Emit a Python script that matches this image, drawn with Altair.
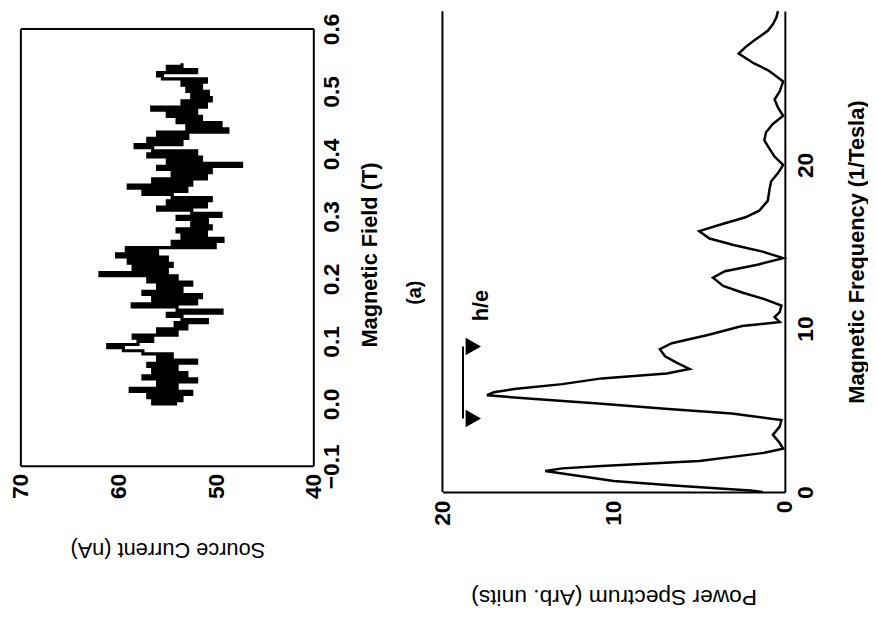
import altair as alt
import pandas as pd

# ---- panel 1: source current vs magnetic field (figure is rotated 90 deg) ----
field_T = [0.000, 0.005, 0.010, 0.015, 0.020, 0.025, 0.030, 0.035, 0.040, 0.045,
           0.050, 0.055, 0.060, 0.065, 0.070, 0.075, 0.080, 0.085, 0.090, 0.095,
           0.100, 0.105, 0.110, 0.115, 0.120, 0.125, 0.130, 0.135, 0.140, 0.145,
           0.150, 0.155, 0.160, 0.165, 0.170, 0.175, 0.180, 0.185, 0.190, 0.195,
           0.200, 0.205, 0.210, 0.215, 0.220, 0.225, 0.230, 0.235, 0.240, 0.245,
           0.250, 0.255, 0.260, 0.265, 0.270, 0.275, 0.280, 0.285, 0.290, 0.295,
           0.300, 0.305, 0.310, 0.315, 0.320, 0.325, 0.330, 0.335, 0.340, 0.345,
           0.350, 0.355, 0.360, 0.365, 0.370, 0.375, 0.380, 0.385, 0.390, 0.395,
           0.400, 0.405, 0.410, 0.415, 0.420, 0.425, 0.430, 0.435, 0.440, 0.445,
           0.450, 0.455, 0.460, 0.465, 0.470, 0.475, 0.480, 0.485, 0.490, 0.495,
           0.500, 0.505, 0.510, 0.515, 0.520, 0.525, 0.530, 0.535, 0.540, 0.545]
current_nA = [54.0, 56.5, 53.5, 57.0, 52.5, 58.8, 54.0, 56.0, 52.0, 57.5,
              53.0, 56.5, 54.0, 57.0, 52.0, 56.0, 54.5, 57.5, 59.5, 61.1,
              58.0, 56.5, 58.5, 54.0, 56.0, 53.0, 54.2, 50.9, 53.5, 55.0,
              49.4, 54.0, 58.6, 52.0, 56.5, 51.5, 57.5, 53.5, 56.0, 52.5,
              57.0, 54.0, 61.9, 55.0, 58.5, 54.5, 59.0, 55.0, 60.2, 56.0,
              59.2, 50.1, 54.5, 49.3, 53.5, 51.0, 54.0, 50.5, 52.5, 50.9,
              54.0, 49.5, 52.5, 56.0, 51.0, 55.0, 50.5, 54.5, 57.5, 53.0,
              59.0, 52.5, 56.5, 51.0, 54.5, 50.5, 56.0, 47.4, 55.0, 51.5,
              57.0, 52.0, 56.5, 58.3, 53.5, 57.0, 52.9, 56.0, 48.8, 53.0,
              49.5, 54.0, 51.5, 55.0, 52.0, 56.6, 51.0, 53.5, 50.5, 52.5,
              50.8, 53.0, 51.5, 53.5, 51.0, 55.5, 56.0, 52.0, 55.0, 53.5]
current_ticks = [70, 60, 50, 40]
field_ticks = [-0.1, 0.0, 0.1, 0.2, 0.3, 0.4, 0.5, 0.6]
current_box = [70, 40]       # frame of panel 1 (data units)
field_box = [-0.1, 0.6]
panel_label = ["(a)"]
panel_label_current = [29.6]  # placed past the 40 nA edge, beside the field axis title
panel_label_field = [0.178]

# ---- panel 2: power spectrum vs magnetic frequency ----
freq_invT = [0.0, 0.1, 0.4, 0.68, 1.09, 1.29, 1.45, 1.59, 1.9, 2.4,
             2.65, 3.0, 3.5, 4.0, 4.4, 4.8, 5.1, 5.4, 5.7, 5.92,
             6.1, 6.3, 6.6, 6.95, 7.25, 7.53, 7.9, 8.3, 8.74, 9.1,
             9.6, 10.15, 10.4, 10.7, 11.0, 11.4, 11.8, 12.2, 12.6, 13.1,
             13.5, 13.9, 14.3, 14.7, 15.1, 15.5, 15.95, 16.4, 16.8, 17.2,
             17.8, 18.5, 19.0, 19.5, 20.0, 20.5, 21.0, 21.5, 22.0, 22.5,
             23.0, 23.5, 24.0, 24.5, 25.1, 25.5, 25.8, 26.2, 26.8, 27.2,
             27.6, 28.2, 28.6, 29.0, 29.4]
power_arb = [1.3, 2.0, 6.5, 10.0, 12.7, 14.0, 13.0, 10.7, 5.0, 1.2,
             0.1, 0.3, 0.7, 0.3, 0.2, 3.1, 7.0, 10.7, 14.8, 17.4,
             17.0, 15.8, 13.0, 10.7, 6.9, 5.57, 6.3, 7.0, 7.3, 6.6,
             4.5, 2.5, 0.3, 0.6, 0.3, 0.2, 1.2, 2.5, 3.6, 4.2,
             3.5, 1.6, 0.1, 1.3, 3.0, 4.4, 5.0, 3.6, 2.3, 1.5,
             1.0, 0.9, 0.8, 0.4, 0.1, 0.6, 0.9, 1.2, 1.1, 0.7,
             0.1, 0.4, 0.6, 0.3, 0.1, 0.6, 1.0, 1.8, 2.7, 2.3,
             1.8, 1.0, 0.7, 0.5, 0.4]
power_ticks = [20, 10, 0]
freq_ticks = [0, 10, 20]
power_edge = [20]

# h/e period marker
he_power_line = [18.8]
he_freq_ends = [4.5, 8.9]
he_power_tri = [18.2, 18.2]
he_label = ["h/e"]
he_label_power = [17.75]
he_label_freq = [11.4]

FONT = "Liberation Sans"

df1 = pd.DataFrame({"field": field_T, "current": current_nA})
df2 = pd.DataFrame({"freq": freq_invT, "power": power_arb})

x_cur = alt.X("current:Q",
              scale=alt.Scale(domain=[40, 70], reverse=True, nice=False, zero=False),
              axis=alt.Axis(values=current_ticks, title="Source Current (nA)",
                            labelAngle=270, labelAlign="right", labelBaseline="middle",
                            labelPadding=7, ticks=False, tickSize=0, domain=False, grid=False,
                            labelFlush=False, labelOverlap=False,
                            labelFontSize=23, labelFontWeight="bold",
                            titleAngle=180, titleBaseline="bottom", titlePadding=39,
                            titleFontSize=22, titleFontWeight="normal"))
y_field = alt.Y("field:Q",
                scale=alt.Scale(domain=[-0.1, 0.6285], nice=False, zero=False),
                axis=alt.Axis(orient="right", values=field_ticks, format=".1f",
                              labelAngle=270, labelAlign="center", labelBaseline="top",
                              labelPadding=7, ticks=False, tickSize=0, domain=False, grid=False,
                              labelFlush=False, labelOverlap=False,
                              labelFontSize=23, labelFontWeight="bold",
                              title="Magnetic Field (T)", titleAngle=270, titleBaseline="top",
                              titlePadding=16, titleFontSize=22, titleFontWeight="bold",
                              titleY=246))

trace = alt.Chart(df1).mark_line(
    interpolate="step-after", color="black", strokeWidth=3.2
).encode(x=x_cur, y=y_field, order=alt.Order("field:Q"))

box_v = alt.Chart(pd.DataFrame({"current": current_box})).mark_rule(
    color="black", strokeWidth=2
).encode(x="current:Q", y=alt.datum(field_box[0]), y2=alt.datum(field_box[1]))

box_h = alt.Chart(pd.DataFrame({"field": field_box})).mark_rule(
    color="black", strokeWidth=2
).encode(y="field:Q", x=alt.datum(current_box[0]), x2=alt.datum(current_box[1]))

label_a = alt.Chart(pd.DataFrame({"current": panel_label_current, "field": panel_label_field,
                                  "t": panel_label})).mark_text(
    angle=270, fontSize=20, fontWeight="bold", font=FONT, color="black"
).encode(x="current:Q", y="field:Q", text="t:N")

left = alt.layer(trace, box_v, box_h, label_a).properties(
    width=296, height=460,
    view=alt.ViewBackground(stroke="transparent"),
)

spec_line = alt.Chart(df2).mark_line(color="black", strokeWidth=2.5).encode(
    x=alt.X("power:Q",
            scale=alt.Scale(domain=[0, 20], reverse=True, nice=False, zero=False),
            axis=alt.Axis(values=power_ticks, title="Power Spectrum (Arb. units)",
                          labelAngle=270, labelAlign="right", labelBaseline="middle",
                          labelPadding=8, ticks=False, tickSize=0, grid=False,
                          domain=True, domainColor="black", domainWidth=2,
                          labelFlush=False, labelOverlap=False,
                          labelFontSize=23, labelFontWeight="bold",
                          titleAngle=180, titleBaseline="bottom", titlePadding=60,
                          titleFontSize=23, titleFontWeight="normal")),
    y=alt.Y("freq:Q",
            scale=alt.Scale(domain=[0, 29.4], nice=False, zero=False),
            axis=alt.Axis(orient="right", values=freq_ticks,
                          labelAngle=270, labelAlign="center", labelBaseline="top",
                          labelPadding=10, ticks=False, tickSize=0, grid=False,
                          domain=True, domainColor="black", domainWidth=2,
                          labelFlush=False, labelOverlap=False,
                          labelFontSize=23, labelFontWeight="bold",
                          title="Magnetic Frequency (1/Tesla)", titleAngle=270,
                          titleBaseline="top", titlePadding=29,
                          titleFontSize=22, titleFontWeight="bold")),
    order=alt.Order("freq:Q"),
)

edge = alt.Chart(pd.DataFrame({"power": power_edge})).mark_rule(
    color="black", strokeWidth=2
).encode(x="power:Q")

he_line = alt.Chart(pd.DataFrame({"power": he_power_line,
                                  "freq": [he_freq_ends[0]],
                                  "freq2": [he_freq_ends[1]]})).mark_rule(
    color="black", strokeWidth=2
).encode(x="power:Q", y="freq:Q", y2="freq2:Q")

he_tri = alt.Chart(pd.DataFrame({"power": he_power_tri, "freq": he_freq_ends})).mark_point(
    shape="triangle-right", filled=True, color="black", opacity=1, size=320
).encode(x="power:Q", y="freq:Q")

he_text = alt.Chart(pd.DataFrame({"power": he_label_power, "freq": he_label_freq,
                                  "t": he_label})).mark_text(
    angle=270, fontSize=22, fontWeight="bold", font=FONT, color="black"
).encode(x="power:Q", y="freq:Q", text="t:N")

right = alt.layer(spec_line, edge, he_line, he_tri, he_text).properties(
    width=346, height=486,
    view=alt.ViewBackground(stroke="transparent"),
)

chart = alt.hconcat(left, right, spacing=130, bounds="flush").properties(
    padding={"left": 1, "top": -6, "right": 0, "bottom": 0}
).configure_axis(
    labelFont=FONT, titleFont=FONT, labelColor="black", titleColor="black"
).configure_title(font=FONT, color="black")

chart.save("out.html", embed_options={"renderer": "svg", "actions": False})
